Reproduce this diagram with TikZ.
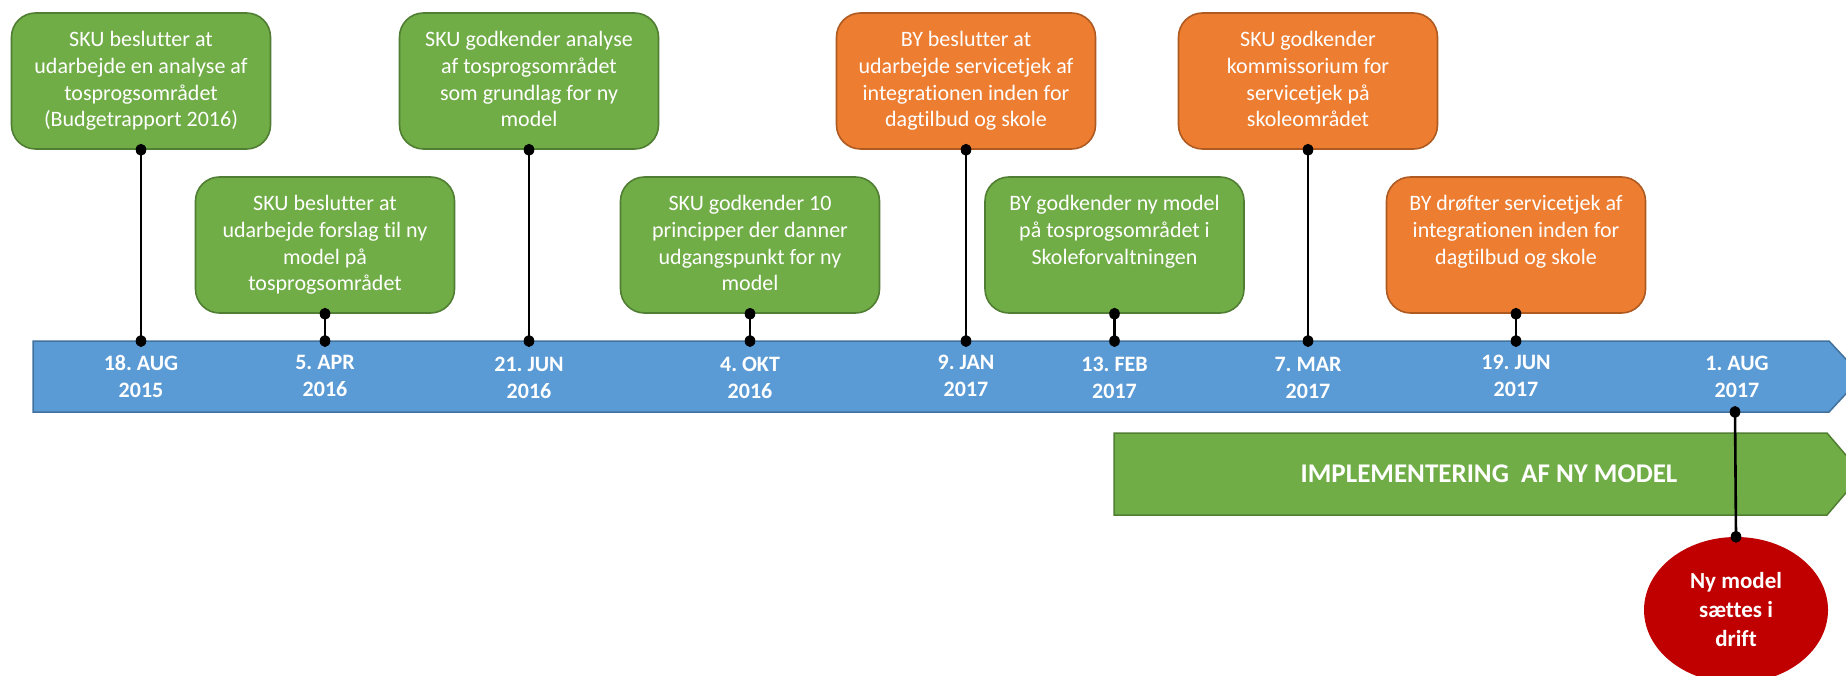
\documentclass[tikz,border=0pt]{standalone}
\usepackage{fontspec}
\setmainfont{Carlito}[Ligatures=NoCommon]
\usetikzlibrary{shapes.geometric}
\definecolor{gfill}{HTML}{70AD47}
\definecolor{gline}{HTML}{507E32}
\definecolor{ofill}{HTML}{ED7D31}
\definecolor{oline}{HTML}{AE5A21}
\definecolor{bfill}{HTML}{5B9BD5}
\definecolor{bline}{HTML}{41719C}
\definecolor{rfill}{HTML}{C00000}
\newcommand\evtxt[1]{\parbox[c][106pt][t]{250pt}{\centering\strut #1}}
\frenchspacing
\begin{document}
\begin{tikzpicture}[x=1pt,y=-1pt,
  evt/.style={rounded corners=24pt, line width=1.6pt, minimum width=259pt, minimum height=136pt,
    inner sep=0pt, text=white, font=\fontsize{22}{26.7}\selectfont},
  gevt/.style={evt, fill=gfill, draw=gline},
  oevt/.style={evt, fill=ofill, draw=oline},
  datelbl/.style={text=white, font=\bfseries\fontsize{22}{26.7}\selectfont, align=center, inner sep=0pt, anchor=north},
  conn/.style={line width=2.6pt, black},
  dotr/.style={fill=black},
  band/.style={line width=1.5pt},
]
\clip (0,0) rectangle (1846,676);
% timeline arrow
\draw[band, fill=bfill, draw=bline] (33,341) -- (1829,341) -- (1862,376.5) -- (1829,412) -- (33,412) -- cycle;
% implementation bar
\draw[band, fill=gfill, draw=gline] (1114,433) -- (1827,433) -- (1862,474) -- (1827,515) -- (1114,515) -- cycle;
\node[text=white, font=\bfseries\fontsize{27}{32}\selectfont, inner sep=0pt] (impl) at (1489,474) {IMPLEMENTERING\ \ AF NY MODEL};

% event boxes
\node[gevt] (b1) at (141,81) {\evtxt{SKU beslutter at\\udarbejde en analyse af\\tosprogsområdet\\(Budgetrapport 2016)}};
\node[gevt] (b2) at (325,245) {\evtxt{SKU beslutter at\\udarbejde forslag til ny\\model på\\tosprogsområdet}};
\node[gevt] (b3) at (529,81) {\evtxt{SKU godkender analyse\\af tosprogsområdet\\som grundlag for ny\\model}};
\node[gevt] (b4) at (750,245) {\evtxt{SKU godkender 10\\principper der danner\\udgangspunkt for ny\\model}};
\node[oevt] (b5) at (966,81) {\evtxt{BY beslutter at\\udarbejde servicetjek af\\integrationen inden for\\dagtilbud og skole}};
\node[gevt] (b6) at (1114.5,245) {\evtxt{BY godkender ny model\\på tosprogsområdet i\\Skoleforvaltningen}};
\node[oevt] (b7) at (1308,81) {\evtxt{SKU godkender\\kommissorium for\\servicetjek på\\skoleområdet}};
\node[oevt] (b8) at (1516,245) {\evtxt{BY drøfter servicetjek af\\integrationen inden for\\dagtilbud og skole}};

% timeline points
\coordinate (t1) at (141,341);
\coordinate (t2) at (325,341);
\coordinate (t3) at (529,341);
\coordinate (t4) at (750,341);
\coordinate (t5) at (966,341);
\coordinate (t6) at (1114.5,341);
\coordinate (t7) at (1308,341);
\coordinate (t8) at (1516,341);
\coordinate (t9) at (1735,412);

% connectors
\foreach \i in {1,...,8}{
  \draw[conn] (b\i.south) -- (t\i);
  \fill[dotr] (b\i.south) ellipse (5.3 and 6);
  \fill[dotr] (t\i) ellipse (5.3 and 6);
}

% date labels
\node[datelbl] (d1) at (141,355) {18. AUG\\2015};
\node[datelbl] (d2) at (325,355) {5. APR\\2016};
\node[datelbl] (d3) at (529,357) {21. JUN\\2016};
\node[datelbl] (d4) at (750,357) {4. OKT\\2016};
\node[datelbl] (d5) at (966,355) {9. JAN\\2017};
\node[datelbl] (d6) at (1114.5,357) {13. FEB\\2017};
\node[datelbl] (d7) at (1308,357) {7. MAR\\2017};
\node[datelbl] (d8) at (1516,355) {19. JUN\\2017};
\node[datelbl] (d9) at (1737,356) {1. AUG\\2017};

% go-live ellipse
\node[ellipse, fill=rfill, minimum width=184pt, minimum height=146pt, inner sep=0pt, text=white,
  align=center, font=\bfseries\fontsize{23}{29}\selectfont] (live) at (1736,610) {Ny model\\sættes i\\drift};
\draw[conn] (t9) -- (live.north);
\fill[dotr] (t9) ellipse (5.3 and 6);
\fill[dotr] (live.north) ellipse (5.3 and 6);
\end{tikzpicture}
\end{document}
